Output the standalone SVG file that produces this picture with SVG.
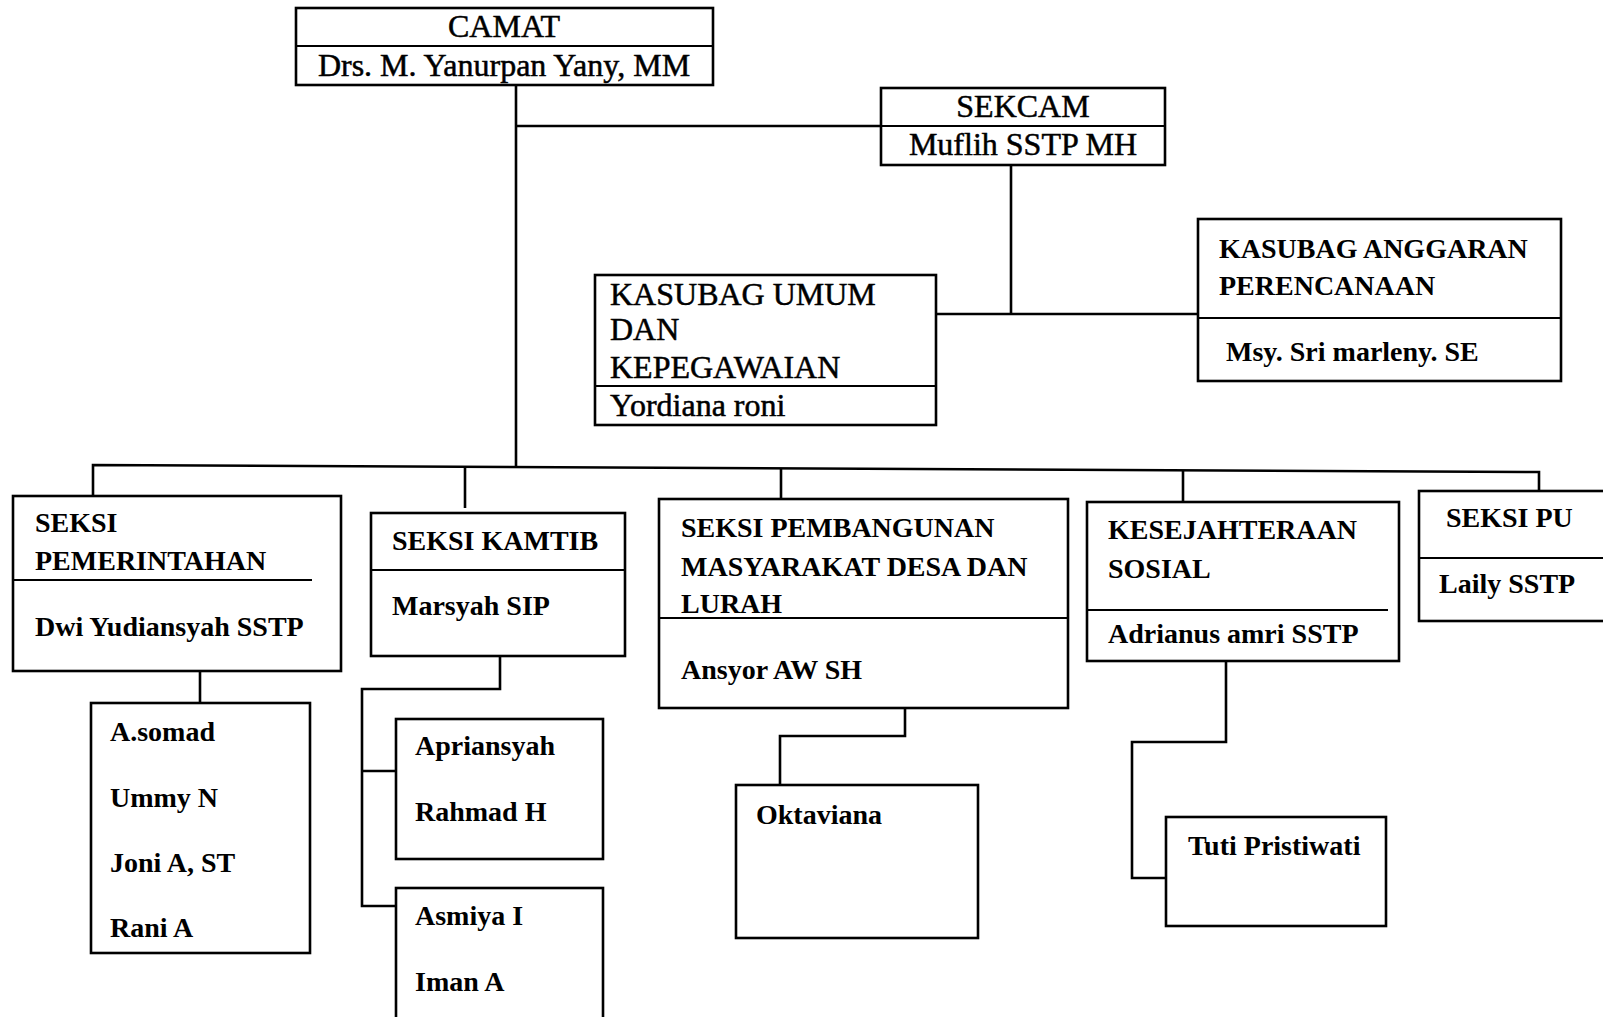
<svg xmlns="http://www.w3.org/2000/svg" width="1603" height="1017" viewBox="0 0 1603 1017">
<style>
.b{fill:#fff;stroke:#000;stroke-width:2.6}
.d{stroke:#000;stroke-width:2.2;fill:none}
.c{stroke:#000;stroke-width:2.6;fill:none}
.t{font-family:"Liberation Serif","Times New Roman",serif;font-size:32px;fill:#000;stroke:#000;stroke-width:0.5}
.s{font-family:"Liberation Serif","Times New Roman",serif;font-size:28px;font-weight:bold;fill:#000}
.m{text-anchor:middle}
</style>
<rect width="1603" height="1017" fill="#fff"/>
<g id="connectors">
<path class="c" d="M516 85V468"/>
<path class="c" d="M516 126H881"/>
<path class="c" d="M1011 165V314"/>
<path class="c" d="M936 314H1198"/>
<path class="c" d="M93 497V465L1539 472V491"/>
<path class="c" d="M465 467V508"/>
<path class="c" d="M781 469V499"/>
<path class="c" d="M1183 470V502"/>
<path class="c" d="M200 671V703"/>
<path class="c" d="M500 656V689H362V906H396"/>
<path class="c" d="M362 771H396"/>
<path class="c" d="M905 708V736H780V785"/>
<path class="c" d="M1226 661V742H1132V878H1166"/>
</g>
<g id="camat">
<rect class="b" x="296" y="8" width="417" height="77"/>
<path class="d" d="M296 46H713"/>
<text class="t m" x="504" y="37">CAMAT</text>
<text class="t m" x="504" y="76">Drs. M. Yanurpan Yany, MM</text>
</g>
<g id="sekcam">
<rect class="b" x="881" y="88" width="284" height="77"/>
<path class="d" d="M881 126H1165"/>
<text class="t m" x="1023" y="117">SEKCAM</text>
<text class="t m" x="1023" y="155">Muflih SSTP MH</text>
</g>
<g id="kasubag-umum">
<rect class="b" x="595" y="275" width="341" height="150"/>
<path class="d" d="M595 386H936"/>
<text class="t" x="610" y="305">KASUBAG UMUM</text>
<text class="t" x="610" y="340">DAN</text>
<text class="t" x="610" y="378">KEPEGAWAIAN</text>
<text class="t" x="610" y="416">Yordiana roni</text>
</g>
<g id="kasubag-anggaran">
<rect class="b" x="1198" y="219" width="363" height="162"/>
<path class="d" d="M1198 318H1561"/>
<text class="s" x="1219" y="258">KASUBAG ANGGARAN</text>
<text class="s" x="1219" y="295">PERENCANAAN</text>
<text class="s" x="1226" y="361">Msy. Sri marleny. SE</text>
</g>
<g id="seksi-pemerintahan">
<rect class="b" x="13" y="496" width="328" height="175"/>
<path class="d" d="M13 580H312"/>
<text class="s" x="35" y="532">SEKSI</text>
<text class="s" x="35" y="570">PEMERINTAHAN</text>
<text class="s" x="35" y="636">Dwi Yudiansyah SSTP</text>
</g>
<g id="seksi-kamtib">
<rect class="b" x="371" y="513" width="254" height="143"/>
<path class="d" d="M371 570H625"/>
<text class="s" x="392" y="550">SEKSI KAMTIB</text>
<text class="s" x="392" y="615">Marsyah SIP</text>
</g>
<g id="seksi-pembangunan">
<rect class="b" x="659" y="499" width="409" height="209"/>
<path class="d" d="M659 618H1068"/>
<text class="s" x="681" y="537">SEKSI PEMBANGUNAN</text>
<text class="s" x="681" y="576">MASYARAKAT DESA DAN</text>
<text class="s" x="681" y="613">LURAH</text>
<text class="s" x="681" y="679">Ansyor AW SH</text>
</g>
<g id="kesejahteraan-sosial">
<rect class="b" x="1087" y="502" width="312" height="159"/>
<path class="d" d="M1087 610H1388"/>
<text class="s" x="1108" y="539">KESEJAHTERAAN</text>
<text class="s" x="1108" y="578">SOSIAL</text>
<text class="s" x="1108" y="643">Adrianus amri SSTP</text>
</g>
<g id="seksi-pu">
<rect class="b" x="1419" y="491" width="200" height="130"/>
<path class="d" d="M1419 558H1620"/>
<text class="s" x="1446" y="527">SEKSI PU</text>
<text class="s" x="1439" y="593">Laily SSTP</text>
</g>
<g id="staff-pemerintahan">
<rect class="b" x="91" y="703" width="219" height="250"/>
<text class="s" x="110" y="741">A.somad</text>
<text class="s" x="110" y="807">Ummy N</text>
<text class="s" x="110" y="872">Joni A, ST</text>
<text class="s" x="110" y="937">Rani A</text>
</g>
<g id="staff-kamtib-1">
<rect class="b" x="396" y="719" width="207" height="140"/>
<text class="s" x="415" y="755">Apriansyah</text>
<text class="s" x="415" y="821">Rahmad H</text>
</g>
<g id="staff-kamtib-2">
<rect class="b" x="396" y="888" width="207" height="150"/>
<text class="s" x="415" y="925">Asmiya I</text>
<text class="s" x="415" y="991">Iman A</text>
</g>
<g id="staff-pembangunan">
<rect class="b" x="736" y="785" width="242" height="153"/>
<text class="s" x="756" y="824">Oktaviana</text>
</g>
<g id="staff-kesejahteraan">
<rect class="b" x="1166" y="817" width="220" height="109"/>
<text class="s" x="1188" y="855">Tuti Pristiwati</text>
</g>
</svg>
